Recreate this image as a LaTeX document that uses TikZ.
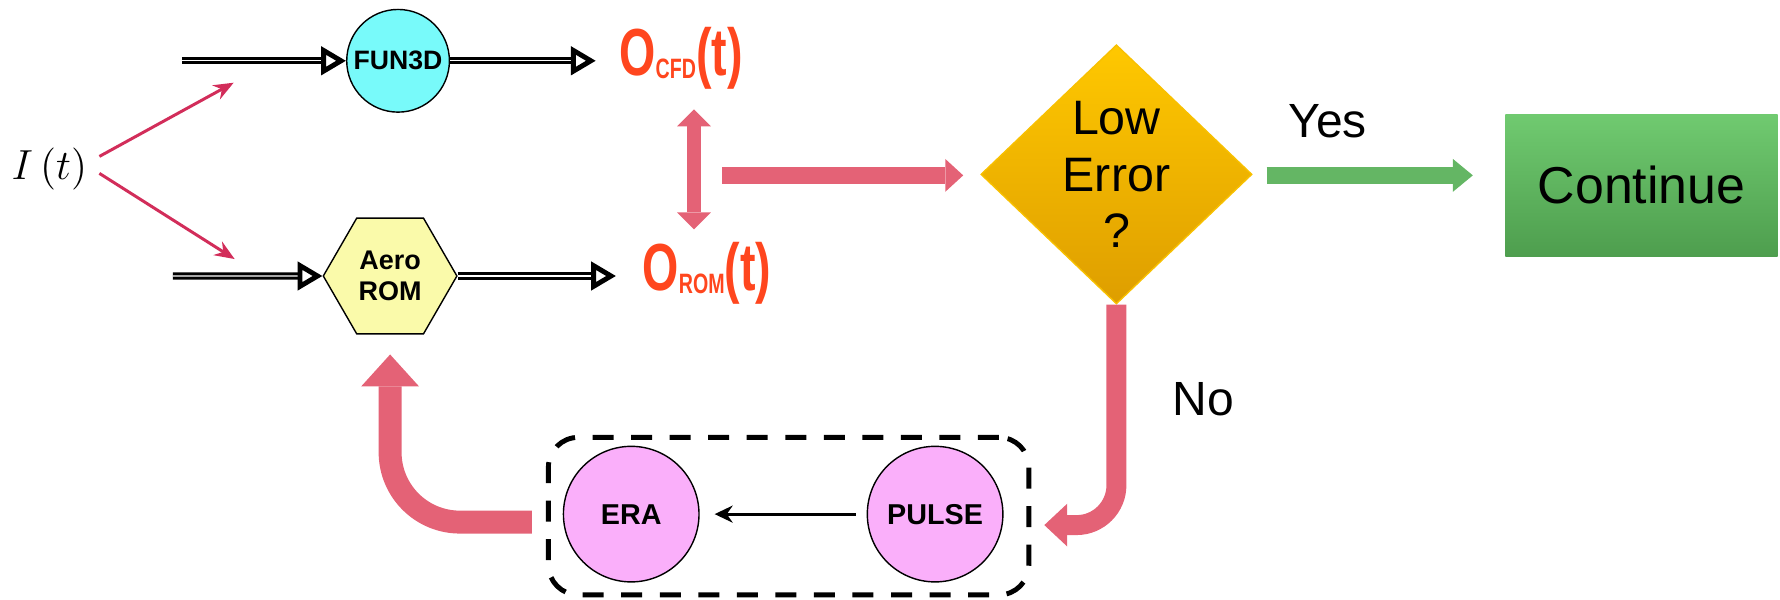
\documentclass[tikz,border=0pt]{standalone}
\usepackage{fontspec}
\setmainfont{Liberation Sans}
\usetikzlibrary{shapes.geometric,arrows.meta,positioning}

\definecolor{fluidcyan}{RGB}{120,250,250}
\definecolor{romyellow}{RGB}{250,250,170}
\definecolor{outred}{RGB}{255,70,30}
\definecolor{inred}{RGB}{210,45,90}
\definecolor{errpink}{RGB}{228,98,118}
\definecolor{dectop}{RGB}{255,200,0}
\definecolor{decbot}{RGB}{222,158,0}
\definecolor{gotop}{RGB}{112,202,112}
\definecolor{gobot}{RGB}{78,158,78}
\definecolor{goarrow}{RGB}{100,182,100}
\definecolor{modpink}{RGB}{250,175,250}

\begin{document}
\begin{tikzpicture}[
            x=0.01cm, y=-0.01cm,
            solver/.style={
                circle,
                draw=black,
                fill=fluidcyan,
                minimum size=1.03cm,
                inner sep=0pt,
                font=\bfseries\fontsize{7.6}{9}\selectfont
            },
            rommodel/.style={
                regular polygon,
                regular polygon sides=6,
                draw=black,
                fill=romyellow,
                minimum size=1.34cm,
                inner sep=0pt,
                align=center,
                font=\bfseries\fontsize{7.7}{8.9}\selectfont
            },
            output/.style={
                text=outred,
                inner sep=0pt,
                font=\bfseries\fontsize{19}{20}\selectfont
            },
            decision/.style={
                diamond,
                draw=dectop!80!decbot,
                top color=dectop,
                bottom color=decbot,
                aspect=1.05,
                minimum width=2.72cm,
                minimum height=2.6cm,
                inner sep=0pt,
                align=center,
                font=\fontsize{13.8}{16}\selectfont
            },
            done/.style={
                rectangle,
                top color=gotop,
                bottom color=gobot,
                minimum width=2.73cm,
                minimum height=1.42cm,
                font=\fontsize{14.8}{17}\selectfont
            },
            module/.style={
                circle,
                draw=black,
                fill=modpink,
                minimum size=1.36cm,
                inner sep=0pt,
                font=\bfseries\fontsize{8.2}{9}\selectfont
            },
            sysbox/.style={
                rectangle,
                draw=black,
                dashed,
                dash pattern=on 6pt off 5pt,
                line width=1.4pt,
                rounded corners=0.3cm,
                minimum width=4.82cm,
                minimum height=1.58cm
            },
            answer/.style={font=\fontsize{13.7}{16}\selectfont},
            sig/.style={double, double distance=0.35pt, line width=0.85pt,
                -{Triangle[open, length=0.25cm, width=0.28cm, line width=1.4pt]}},
            split/.style={inred, line width=0.85pt, -{Stealth[length=0.2cm, width=0.16cm]}},
            fatpink/.style={errpink, line width=0.17cm,
                -{Triangle[length=0.18cm, width=0.33cm, line width=0pt]}},
            fatgreen/.style={goarrow, line width=0.17cm,
                -{Triangle[length=0.2cm, width=0.33cm, line width=0pt]}}
        ]

        % Input and the two models
        \node (input) at (43,170) {\fontsize{11.5}{13}\selectfont$I\,(t)$};
        \node[solver] (fun3d) at (393,61) {FUN3D};
        \node[rommodel] (rom) at (385,277) {Aero\\ROM};
        \coordinate (fin) at (176,61);
        \coordinate (rin) at (167,277);
        \coordinate (fsplit) at (228,83);
        \coordinate (rsplit) at (229,260);

        % Outputs
        \node[output] (ocfd) at (677,58) {\scalebox{0.7}[1]{O\raisebox{-1pt}{\fontsize{8}{9}\selectfont CFD}(t)}};
        \node[output] (orom) at (703,274) {\scalebox{0.7}[1]{O\raisebox{-1pt}{\fontsize{8}{9}\selectfont ROM}(t)}};
        \coordinate (cmpmid) at (690,176);
        \coordinate (cmpout) at (718,176);

        % Decision and result
        \node[decision] (lowerr) at (1114,175) {Low\\Error\\?};
        \node[done] (cont) at (1641,186) {Continue};
        \node[answer] (yes) at (1326,122) {Yes};
        \node[answer] (no) at (1201,401) {No};

        % System identification
        \node[sysbox] (sysid) at (785,518) {};
        \node[module] (era) at (627,516) {ERA};
        \node[module] (pulse) at (932,516) {PULSE};

        % Signal arrows
        \draw[split] ([yshift=0.13cm]input.east) -- (fsplit);
        \draw[split] ([yshift=-0.04cm]input.east) -- (rsplit);
        \draw[sig] (fin) -- (fun3d.west);
        \draw[sig] (rin) -- (rom.west);
        \draw[sig, shorten >=0.23cm] (fun3d.east) -- (fun3d.east -| ocfd.west);
        \draw[sig, shorten >=0.26cm] (rom.east) -- (rom.east -| orom.west);

        % Comparison and loop
        \draw[errpink, line width=0.14cm,
              {Triangle[length=0.17cm, width=0.34cm, line width=0pt]}-{Triangle[length=0.17cm, width=0.34cm, line width=0pt]},
              shorten <=0.2cm, shorten >=0.12cm]
              (ocfd.south -| cmpmid) -- (orom.north -| cmpmid);
        \draw[fatpink, shorten >=0.17cm] (cmpout) -- (cmpout -| lowerr.west);
        \draw[fatgreen, shorten <=0.14cm, shorten >=0.32cm] (lowerr.east |- cmpout) -- (cmpout -| cont.west);
        \draw[fatpink, line width=0.2cm, rounded corners=0.4cm,
              -{Triangle[length=0.23cm, width=0.43cm, line width=0pt]}, shorten >=0.13cm]
              (lowerr.south) |- ([yshift=-0.09cm]sysid.east);
        \draw[fatpink, line width=0.23cm, rounded corners=0.7cm,
              -{Triangle[length=0.32cm, width=0.58cm, line width=0pt]}, shorten <=0.14cm, shorten >=0.2cm]
              ([yshift=-0.06cm]sysid.west) -| (rom.south);
        \draw[line width=0.85pt, -{Stealth[length=0.18cm, width=0.17cm]}, shorten <=0.11cm, shorten >=0.15cm]
              (pulse) -- (era);

        \useasboundingbox (0,0) rectangle (1780,602);
        \end{tikzpicture}
\end{document}
